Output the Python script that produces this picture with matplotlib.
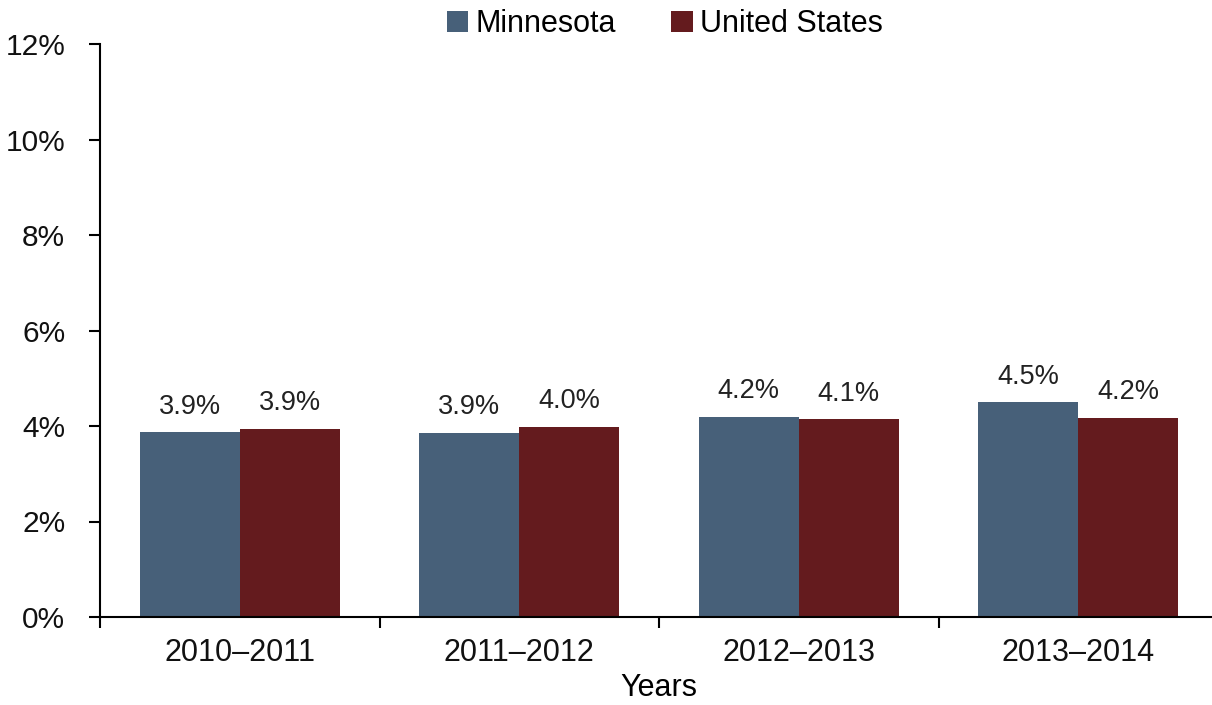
import matplotlib
matplotlib.use("Agg")
import matplotlib.pyplot as plt
from matplotlib.ticker import FixedLocator
import numpy as np

categories = ["2010\u20132011", "2011\u20132012", "2012\u20132013", "2013\u20132014"]
minnesota = [3.87, 3.86, 4.19, 4.50]
united_states = [3.94, 3.98, 4.14, 4.17]
series_names = ["Minnesota", "United States"]
yticks = [0, 2, 4, 6, 8, 10, 12]

plt.rcParams['font.family'] = ['Liberation Sans', 'DejaVu Sans']

W, H = 1212, 705
fig = plt.figure(figsize=(W / 100, H / 100), dpi=100)
ax = fig.add_axes([100 / W, (H - 617) / H, (1218 - 100) / W, (617 - 44) / H])

c_mn = "#476079"
c_us = "#641b1e"
x = np.arange(len(categories))
bw = 0.358
b1 = ax.bar(x - bw / 2, minnesota, bw, color=c_mn, label=series_names[0])
b2 = ax.bar(x + bw / 2, united_states, bw, color=c_us, label=series_names[1])

for bars, vals in ((b1, minnesota), (b2, united_states)):
    for r, v in zip(bars, vals):
        ax.annotate(f"{v:.1f}%", (r.get_x() + r.get_width() / 2, r.get_height()),
                    xytext=(0, 9), textcoords="offset points",
                    ha="center", va="bottom", fontsize=19.5, color="#222222")

ax.set_xlim(-0.5, len(categories) - 0.5)
ax.set_ylim(0, 12)
ax.set_yticks(yticks)
ax.set_yticklabels([f"{t}%" for t in yticks])
ax.set_xticks(x)
ax.set_xticklabels(categories)
ax.xaxis.set_minor_locator(FixedLocator(np.arange(-0.5, len(categories), 1.0)))
ax.tick_params(axis="x", which="major", length=0, pad=15, labelsize=22, colors="#111111")
ax.tick_params(axis="x", which="minor", length=8, width=1.5, direction="out", color="black")
ax.tick_params(axis="y", length=8, width=1.5, direction="out", pad=17, labelsize=21.5,
               color="black", labelcolor="#111111")

for s in ("top", "right"):
    ax.spines[s].set_visible(False)
for s in ("left", "bottom"):
    ax.spines[s].set_linewidth(1.5)
    ax.spines[s].set_color("black")

ax.set_xlabel("Years", fontsize=22, labelpad=4, color="black")

fig.legend(handles=[b1, b2], labels=series_names, loc="center", bbox_to_anchor=(665 / W, 1 - 24 / H),
           ncol=2, frameon=False, fontsize=22, handlelength=0.7, handleheight=0.7,
           handletextpad=0.25, columnspacing=1.8, borderaxespad=0)

fig.savefig("out.png", dpi=100)
